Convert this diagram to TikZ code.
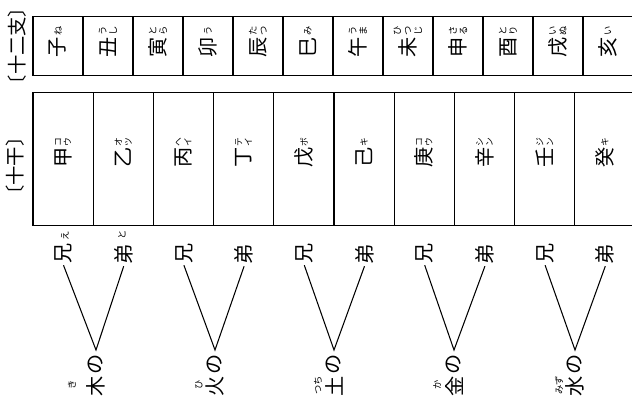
\documentclass[tikz,border=0pt]{standalone}
\usepackage{fontspec}
\newfontfamily\jp{Noto Sans CJK JP}
\begin{document}
\begin{tikzpicture}[x=0.02cm,y=-0.02cm,
  kj/.style={rotate=90,inner sep=1pt,font=\jp\fontsize{11.5}{11.5}\selectfont},
  lbl/.style={rotate=90,inner sep=0pt,font=\jp\fontsize{11}{11}\selectfont},
  fgh/.style={rotate=90,inner sep=0pt,align=center,font=\jp\fontsize{5.3}{6}\selectfont},
  fgk/.style={rotate=90,inner sep=0pt,align=center,font=\jp\fontsize{5}{5.6}\selectfont},
  cellz/.style={draw,line width=0.7pt,minimum width=1cm,minimum height=1.18cm,inner sep=0pt},
  cellj/.style={draw,line width=0.7pt,minimum width=1.204cm,minimum height=2.66cm,inner sep=0pt},
  tree/.style={line width=0.6pt}]
\useasboundingbox (0,0) rectangle (632,399);
\clip (0,0) rectangle (632,399);
% labels
\node[lbl] (l12) at (17,46) {〔十二支〕};
\node[lbl] (l10) at (15,166) {〔十干〕};
% twelve branches
\foreach \k/\f [count=\i from 0] in {子/ね,丑/う\\し,寅/と\\ら,卯/う,辰/た\\つ,巳/み,午/う\\ま,未/ひ\\つ\\じ,申/さ\\る,酉/と\\り,戌/い\\ぬ,亥/い}{
  \node[cellz] (zc\i) at ({58+50*\i},46) {};
  \node[kj] (zk\i) at ({58+50*\i},47) {\k};
  \node[fgh] (zf\i) at ({58+50*\i},31) {\f};
}
% ten stems
\foreach \k/\f [count=\i from 0] in {甲/コ\\ウ,乙/オ\\ツ,丙/ヘ\\イ,丁/テ\\イ,戊/ボ,己/キ,庚/コ\\ウ,辛/シ\\ン,壬/ジ\\ン,癸/キ}{
  \node[cellj] (jc\i) at ({63.1+60.2*\i},159) {};
  \node[kj] (jk\i) at ({63.1+60.2*\i},157) {\k};
  \node[fgk] (jf\i) at ({63.1+60.2*\i},142) {\f};
}
% elder / younger trees
\foreach \e/\r/\ex/\rx [count=\i from 0] in {木/き/96/72,火/ひ/215/199,土/つち/334/318,金/か/454/437,水/みず/575/559}{
  \node[kj] (ani\i) at ({63.5+120.4*\i},253) {兄};
  \node[kj] (oto\i) at ({123.7+120.4*\i},254) {弟};
  \node[kj] (no\i) at (\ex,364) {の};
  \node[kj] (el\i) at (\ex,386) {\e};
  \node[fgh] (er\i) at (\rx,385) {\r};
  \coordinate (ap\i) at (\ex,350);
  \draw[tree] (ani\i.west) -- (ap\i) -- (oto\i.west);
}
\node[fgh] (anir) at (65,236) {え};
\node[fgh] (otor) at (122,235) {と};
\end{tikzpicture}
\end{document}
